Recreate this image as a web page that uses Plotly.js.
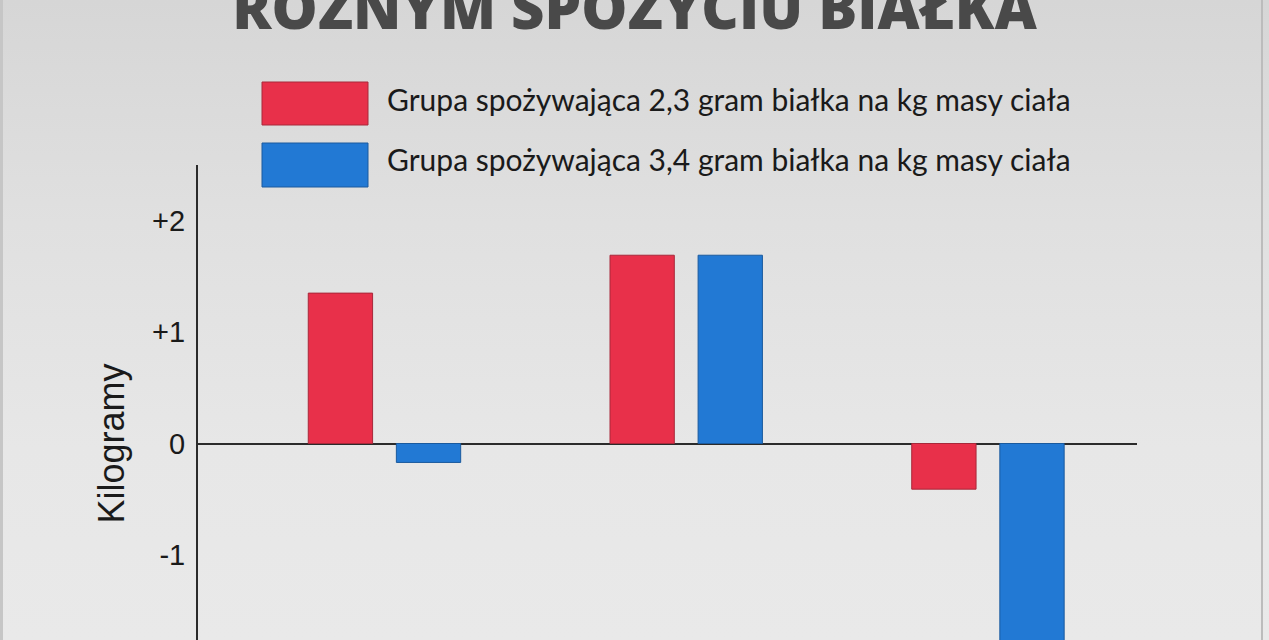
<!DOCTYPE html>
<html>
<head>
<meta charset="utf-8">
<script src="https://cdn.plot.ly/plotly-3.0.1.min.js"></script>
<style>
  html, body { margin:0; padding:0; overflow:hidden; }
  #wrap { position:relative; width:1269px; height:640px; overflow:hidden;
          background: linear-gradient(to bottom, #d6d6d6 0%, #e0e0e0 35%, #e7e7e7 70%, #e9e9e9 100%); }
  #chart { position:absolute; left:0; top:-40px; width:1269px; height:900px; }
  .edgeL { position:absolute; left:0; top:0; width:3px; height:640px; background:#c6c6c6; }
  .edgeR { position:absolute; left:1261px; top:0; width:2px; height:640px; background:#bcbcbc; }
</style>
</head>
<body>
<div id="wrap">
  <div id="chart"></div>
  <div class="edgeL"></div>
  <div class="edgeR"></div>
</div>
<script>
// ---- data ----
const titleText = "RÓŻNYM SPOŻYCIU BIAŁKA";
const categories = ["Masa ciała", "Beztłuszczowa masa ciała", "Masa tkanki tłuszczowej"];
const seriesNames = [
  "Grupa spożywająca 2,3 gram białka na kg masy ciała",
  "Grupa spożywająca 3,4 gram białka na kg masy ciała"
];
const values23 = [1.35, 1.69, -0.41];
const values34 = [-0.17, 1.69, -1.9];
const tickValues = [-1, 0, 1, 2];
const tickLabels = ["-1", "0", "+1", "+2"];
const yTitle = "Kilogramy";

// ---- styles ----
const colors = ["#e8304a", "#2279d4"];
const edgeColors = ["#a8283a", "#1a5a9e"];

const W = 1269, H = 900, OFF = 40;
const M = { l: 198, r: 132, t: 205, b: 138 };
const PW = W - M.l - M.r, PH = H - M.t - M.b;
// helpers converting screen pixels (of the 640 px picture) into paper coords
const px = x => (x - M.l) / PW;
const py = y => (H - M.b - (y + OFF)) / PH;

const traces = [values23, values34].map((v, i) => ({
  type: "bar",
  x: categories,
  y: v,
  name: seriesNames[i],
  marker: { color: colors[i], line: { color: edgeColors[i], width: 1 } },
  showlegend: false,
  hoverinfo: "y"
}));

// custom large legend swatches
const swatchRows = [[82, 125], [143, 187]];
const shapes = swatchRows.map((r, i) => ({
  type: "rect", xref: "paper", yref: "paper",
  x0: px(262), x1: px(368), y0: py(r[1]), y1: py(r[0]),
  fillcolor: colors[i], line: { color: edgeColors[i], width: 1 }
}));
const textRows = [99, 159];
const annotations = textRows.map((y, i) => ({
  xref: "paper", yref: "paper", x: px(385), y: py(y),
  xanchor: "left", yanchor: "middle", showarrow: false,
  text: seriesNames[i],
  font: { family: "Lato, 'Open Sans', sans-serif", size: 30, color: "#1a1a1a" }
}));

const layout = {
  width: W, height: H,
  margin: M,
  paper_bgcolor: "rgba(0,0,0,0)",
  plot_bgcolor: "rgba(0,0,0,0)",
  title: {
    text: titleText,
    xref: "container", x: 0.5, xanchor: "center",
    yref: "container", y: (H - (29 + OFF)) / H, yanchor: "bottom",
    font: { family: "'Open Sans', sans-serif", size: 58, weight: 800, color: "#494949" }
  },
  barmode: "group",
  bargap: 0.416,
  bargroupgap: 0.27,
  xaxis: {
    type: "category",
    range: [-0.618, 2.494],
    showgrid: false, showline: false, zeroline: false, ticks: "",
    showticklabels: false
  },
  yaxis: {
    range: [-2.5, 2.5],
    tickvals: tickValues, ticktext: tickLabels,
    showgrid: false,
    showline: true, linecolor: "#2b2b2b", linewidth: 2,
    zeroline: true, zerolinecolor: "#2b2b2b", zerolinewidth: 2,
    ticks: "", ticklabelstandoff: 5,
    tickfont: { family: "Liberation Sans, Arial, sans-serif", size: 29, color: "#1a1a1a" },
    title: { text: yTitle, standoff: 17,
             font: { family: "Liberation Sans, Arial, sans-serif", size: 36, color: "#1a1a1a" } }
  },
  shapes: shapes,
  annotations: annotations
};

Plotly.newPlot("chart", traces, layout, { displayModeBar: false, staticPlot: true });
</script>
</body>
</html>
